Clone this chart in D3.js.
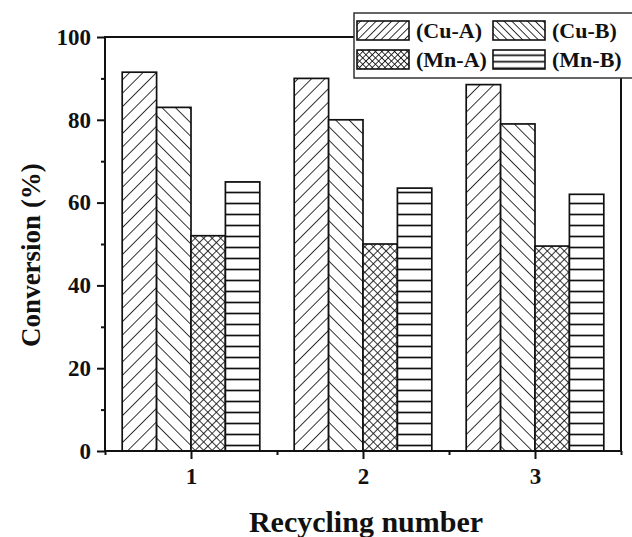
<!DOCTYPE html>
<html>
<head>
<meta charset="utf-8">
<script src="https://cdn.jsdelivr.net/npm/d3@7"></script>
<style>
  body { margin: 0; background: #fff; }
  text { font-family: "Liberation Serif", "Times New Roman", serif; font-weight: bold; fill: #111; }
</style>
</head>
<body>
<svg width="632" height="537"></svg>
<script>
// data
var cycles = [1, 2, 3];
var series = ['(Cu-A)', '(Cu-B)', '(Mn-A)', '(Mn-B)'];
var cuA = [91.5, 90.0, 88.5];
var cuB = [83.0, 80.0, 79.0];
var mnA = [52.0, 50.0, 49.5];
var mnB = [65.0, 63.5, 62.0];
var yTicks = [0, 20, 40, 60, 80, 100];
var yMinor = [10, 30, 50, 70, 90];
var xMinor = [0.5, 1.5, 2.5, 3.5];

var values = [cuA, cuB, mnA, mnB];
var patternIds = ['pCuA', 'pCuB', 'pMnA', 'pMnB'];

var svg = d3.select('svg');
var plotL = 105, plotR = 621, plotT = 37, plotB = 451;

var xScale = d3.scaleLinear().domain([0.5, 3.5]).range([plotL, plotR]);
var yScale = d3.scaleLinear().domain([0, 100]).range([plotB, plotT]);
var barW = (xScale(2) - xScale(1)) * 0.2;

// **** hatch patterns ****
var defs = svg.append('defs');
function hatch(id, size, angle, lines) {
    var p = defs.append('pattern').attr('id', id)
        .attr('patternUnits', 'userSpaceOnUse')
        .attr('width', size).attr('height', size)
        .attr('patternTransform', 'rotate(' + angle + ')');
    p.append('rect').attr('width', size).attr('height', size).attr('fill', '#fff');
    lines.forEach(function(l) {
        p.append('line').attr('x1', l[0] * size).attr('y1', l[1] * size)
            .attr('x2', l[2] * size).attr('y2', l[3] * size)
            .attr('stroke', '#111').attr('stroke-width', 1.7);
    });
}
var vert = [[0, 0, 0, 1]];
var cross = [[0, 0, 0, 1], [0, 0, 1, 0]];
var horiz = [[0, 0.5, 1, 0.5]];
hatch('pCuA', 9.5, 45, vert);
hatch('pCuB', 9.5, -45, vert);
hatch('pMnA', 6, 45, cross);
hatch('pMnB', 11, 0, horiz);
// denser versions for the legend swatches
hatch('lCuA', 5.5, 45, vert);
hatch('lCuB', 5.5, -45, vert);
hatch('lMnA', 4.5, 45, cross);
hatch('lMnB', 6.5, 0, horiz);

// **** bars ****
var rows = [];
cycles.forEach(function(c, i) {
    values.forEach(function(v, s) {
        rows.push({ cycle: c, s: s, value: v[i] });
    });
});

svg.append('g').selectAll('rect').data(rows).enter().append('rect')
    .attr('x', function(d) { return xScale(d.cycle) + (d.s - 2) * barW; })
    .attr('y', function(d) { return yScale(d.value); })
    .attr('width', barW)
    .attr('height', function(d) { return yScale(0) - yScale(d.value); })
    .attr('fill', function(d) { return 'url(#' + patternIds[d.s] + ')'; })
    .attr('stroke', '#111').attr('stroke-width', 1.7);

// **** frame and axes ****
svg.append('rect').attr('x', plotL).attr('y', plotT)
    .attr('width', plotR - plotL).attr('height', plotB - plotT)
    .attr('fill', 'none').attr('stroke', '#111').attr('stroke-width', 2);

var yAxis = svg.append('g').attr('transform', 'translate(' + plotL + ',0)')
    .call(d3.axisLeft(yScale).tickValues(yTicks).tickSize(8).tickPadding(6));
svg.append('g').attr('transform', 'translate(' + plotL + ',0)')
    .call(d3.axisLeft(yScale).tickValues(yMinor).tickSize(4).tickFormat(''));

var xAxis = svg.append('g').attr('transform', 'translate(0,' + plotB + ')')
    .call(d3.axisBottom(xScale).tickValues(cycles).tickSize(8).tickPadding(9).tickFormat(d3.format('d')));
svg.append('g').attr('transform', 'translate(0,' + plotB + ')')
    .call(d3.axisBottom(xScale).tickValues(xMinor).tickSize(4).tickFormat(''));

svg.selectAll('.domain').remove();
svg.selectAll('.tick line').attr('stroke', '#111').attr('stroke-width', 2);
yAxis.selectAll('text').style('font-size', '23px');
xAxis.selectAll('text').style('font-size', '23px');

svg.append('text')
    .attr('transform', 'translate(40,255) rotate(-90)')
    .attr('text-anchor', 'middle')
    .style('font-size', '27px')
    .text('Conversion (%)');

svg.append('text')
    .attr('x', 366).attr('y', 532)
    .attr('text-anchor', 'middle')
    .style('font-size', '30px')
    .text('Recycling number');

// **** legend ****
var lg = svg.append('g');
lg.append('rect').attr('x', 354).attr('y', 13).attr('width', 290).attr('height', 65)
    .attr('fill', '#fff').attr('stroke', '#333').attr('stroke-width', 1.5);
var legPos = [[357, 21], [493, 21], [357, 50], [493, 50]];
var legIds = ['lCuA', 'lCuB', 'lMnA', 'lMnB'];
series.forEach(function(name, s) {
    var p = legPos[s];
    lg.append('rect').attr('x', p[0]).attr('y', p[1]).attr('width', 52).attr('height', 19)
        .attr('fill', 'url(#' + legIds[s] + ')').attr('stroke', '#111').attr('stroke-width', 1.6);
    lg.append('text').attr('x', p[0] + 59).attr('y', p[1] + 17)
        .style('font-size', '22px').text(name);
});
</script>
</body>
</html>
